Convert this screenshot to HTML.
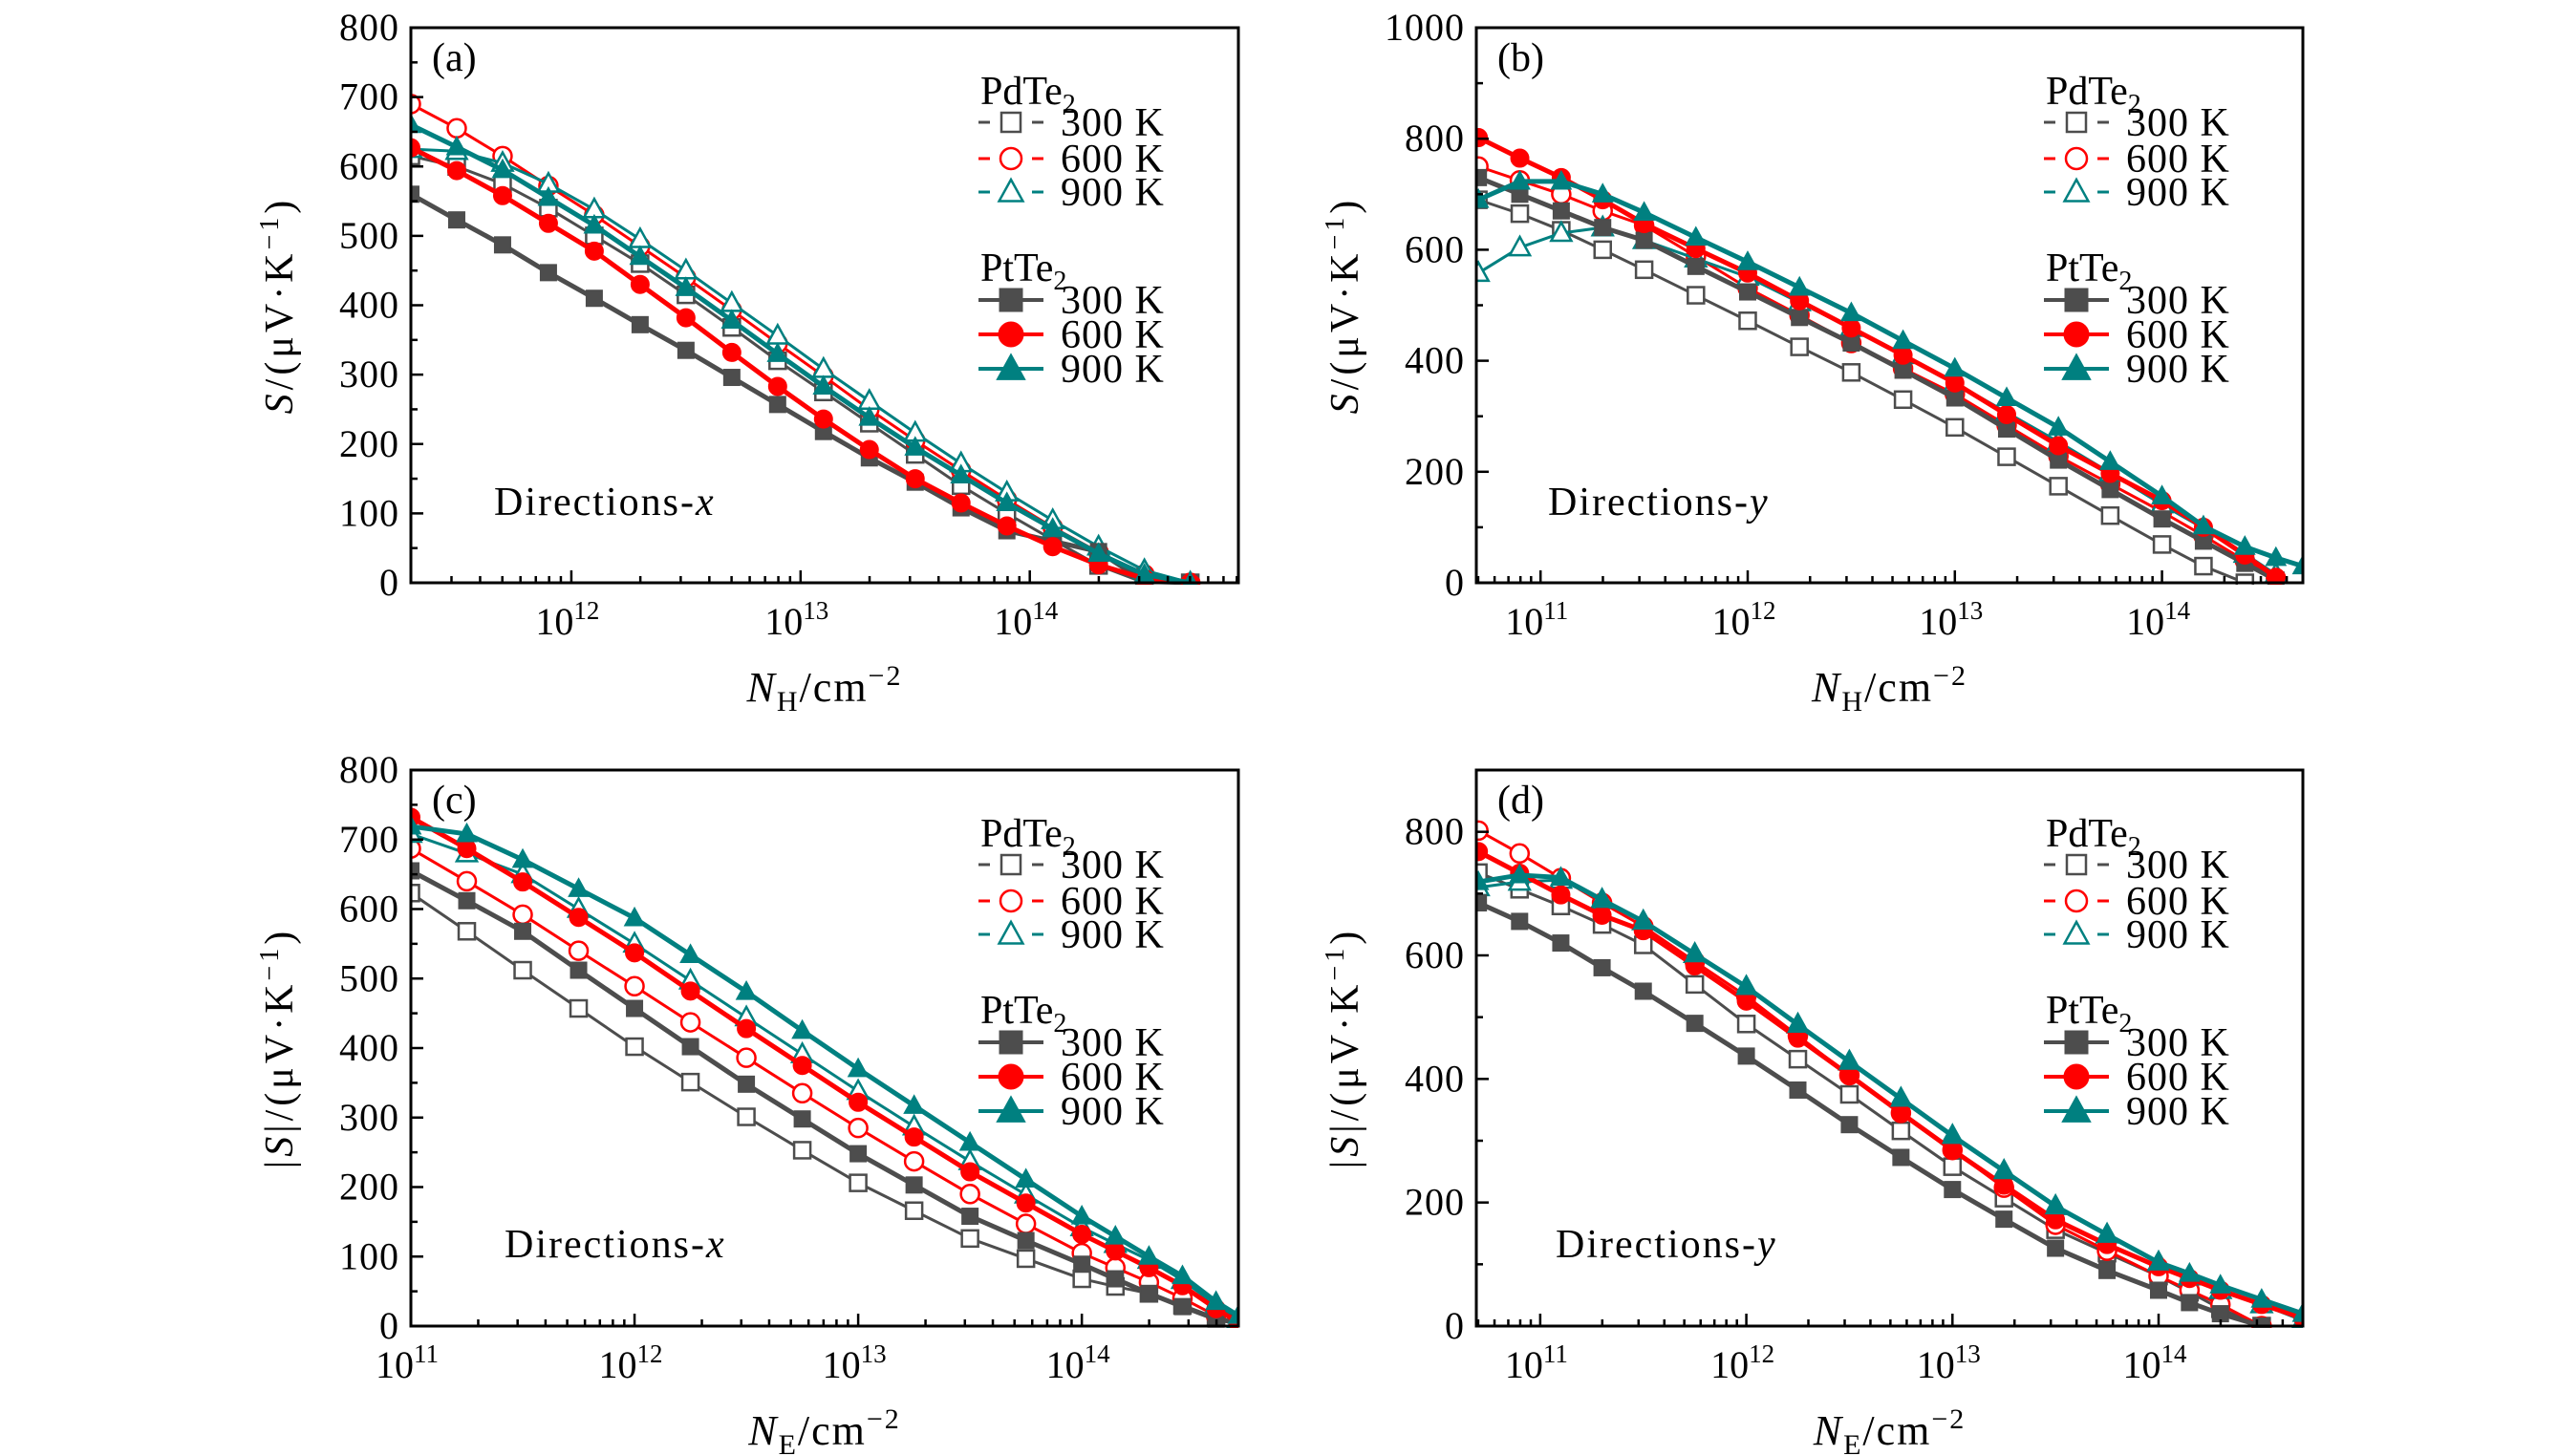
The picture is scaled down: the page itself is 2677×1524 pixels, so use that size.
<!DOCTYPE html>
<html><head><meta charset="utf-8"><title>Seebeck coefficient vs carrier concentration</title>
<style>
html,body{margin:0;padding:0;background:#fff;}
svg{display:block;font-family:"Liberation Serif","DejaVu Serif",serif;}
</style></head>
<body>
<svg id="fig" width="2677" height="1524" viewBox="0 0 2677 1524" xmlns="http://www.w3.org/2000/svg"></svg>
<script>
// ---- data (x values are log10 of carrier concentration) ----
const aX = [11.3,11.5,11.7,11.9,12.1,12.3,12.5,12.7,12.9,13.1,13.3,13.5,13.7,13.9,14.1,14.3,14.5,14.7];
const aPd300 = [615,600,575,540,500,460,415,368,320,275,230,185,140,100,62,25,0,0];
const aPd600 = [690,655,615,572,530,485,440,393,345,298,250,205,162,120,80,44,12,0];
const aPd900 = [625,622,605,575,538,495,450,403,356,308,262,216,172,130,90,52,18,0];
const aPt300 = [560,523,487,447,410,372,335,296,257,218,180,145,108,75,60,45,2,0];
const aPt600 = [627,594,558,518,478,430,382,332,283,236,192,150,115,82,52,26,6,0];
const aPt900 = [660,628,595,555,515,470,425,378,330,283,238,195,155,115,78,42,12,0];

const bX = [10.7,10.9,11.1,11.3,11.5,11.75,12,12.25,12.5,12.75,13,13.25,13.5,13.75,14,14.2,14.4,14.55,14.68];
const bPd300 = [690,665,635,600,564,518,472,425,379,330,280,227,174,121,69,30,0,null,null];
const bPd600 = [750,725,700,670,644,588,531,482,432,386,340,284,228,178,128,85,40,8,null];
const bPd900 = [558,604,630,640,617,584,551,505,459,410,360,307,254,198,141,98,52,15,null];
const bPt300 = [730,700,670,640,617,570,524,478,432,383,333,277,221,168,115,75,35,5,null];
const bPt600 = [802,765,730,690,647,602,558,508,459,410,360,303,247,197,148,100,50,10,null];
const bPt900 = [690,723,723,700,667,622,578,532,486,436,386,333,280,218,156,102,65,45,30];

const cX = [11.0,11.25,11.5,11.75,12,12.25,12.5,12.75,13,13.25,13.5,13.75,14,14.15,14.3,14.45,14.6,14.7];
const cPd300 = [623,568,512,457,402,351,301,253,206,166,126,97,68,57,47,30,12,0];
const cPd600 = [687,640,592,540,489,437,386,335,285,237,190,147,105,84,63,40,15,0];
const cPd900 = [708,680,650,600,550,497,444,391,338,287,237,189,142,118,95,66,30,10];
const cPt300 = [655,612,568,512,457,402,348,298,248,203,158,123,89,68,47,28,10,5];
const cPt600 = [732,687,639,588,537,482,428,375,322,272,222,177,132,108,84,58,25,5];
const cPt900 = [719,708,671,629,587,534,481,425,370,317,264,211,158,129,100,72,35,15];

const dX = [10.7,10.9,11.1,11.3,11.5,11.75,12,12.25,12.5,12.75,13,13.25,13.5,13.75,14,14.15,14.3,14.5,14.7];
const dPd300 = [734,707,680,650,617,553,489,432,375,316,258,207,156,118,81,55,28,0,null];
const dPd600 = [802,765,725,685,647,590,534,470,406,345,285,224,164,122,81,58,35,0,null];
const dPd900 = [710,719,722,690,655,602,549,488,428,368,308,251,194,148,103,80,58,35,9];
const dPt300 = [685,655,620,580,542,490,437,382,326,273,221,173,126,90,58,38,20,0,null];
const dPt600 = [768,733,698,665,640,583,526,466,406,345,285,228,172,132,96,77,58,35,13];
const dPt900 = [719,730,726,690,655,602,549,488,428,368,308,251,194,148,103,85,66,43,20];

const aYTicks = [0,100,200,300,400,500,600,700,800];
const bYTicks = [0,200,400,600,800,1000];
const cYTicks = [0,100,200,300,400,500,600,700,800];
const dYTicks = [0,200,400,600,800];
const aXTicks = [12,13,14];
const bXTicks = [11,12,13,14];
const cXTicks = [11,12,13,14];
const dXTicks = [11,12,13,14];
const tempLabels = ["300 K","600 K","900 K"];

// ---- drawing ----
const NS = "http://www.w3.org/2000/svg";
const svg = document.getElementById('fig');
const GRAY = "#4d4d4d", RED = "#ff0000", TEAL = "#008080";
const COLORS = [GRAY, RED, TEAL];
function mk(tag, attrs, parent){
  const e = document.createElementNS(NS, tag);
  for (const k in attrs) e.setAttribute(k, attrs[k]);
  (parent||svg).appendChild(e);
  return e;
}
function marker(g, shape, filled, color, cx, cy, s){
  let e;
  const fill = filled ? color : "#fff";
  const sw = filled ? 1 : 2.5;
  if (shape === 0){
    e = mk('rect', {x:cx-s/2, y:cy-s/2, width:s, height:s, fill:fill, stroke:color, 'stroke-width':sw}, g);
  } else if (shape === 1){
    e = mk('circle', {cx:cx, cy:cy, r:s/2+1, fill:fill, stroke:color, 'stroke-width':sw}, g);
  } else {
    const h = s*1.05;
    e = mk('polygon', {points:`${cx},${cy-h*0.62} ${cx-s*0.62},${cy+h*0.45} ${cx+s*0.62},${cy+h*0.45}`, fill:fill, stroke:color, 'stroke-width':sw}, g);
  }
  return e;
}

const panels = [
  {id:'a', L:430, R:1296, T:29, B:610, xmin:11.3, xmax:14.91, ymax:800, yMinorStep:50, xs:aX,
   pd:[aPd300,aPd600,aPd900], pt:[aPt300,aPt600,aPt900], yt:aYTicks, xt:aXTicks,
   ylab:'S', xsub:'H', dir:'x', dirX:87},
  {id:'b', L:1545, R:2410, T:29, B:610, xmin:10.69, xmax:14.68, ymax:1000, yMinorStep:100, xs:bX,
   pd:[bPd300,bPd600,bPd900], pt:[bPt300,bPt600,bPt900], yt:bYTicks, xt:bXTicks,
   ylab:'S', xsub:'H', dir:'y', dirX:75},
  {id:'c', L:430, R:1296, T:806, B:1388, xmin:11.0, xmax:14.70, ymax:800, yMinorStep:50, xs:cX,
   pd:[cPd300,cPd600,cPd900], pt:[cPt300,cPt600,cPt900], yt:cYTicks, xt:cXTicks,
   ylab:'|S|', xsub:'E', dir:'x', dirX:98},
  {id:'d', L:1545, R:2410, T:806, B:1388, xmin:10.69, xmax:14.70, ymax:900, yMinorStep:100, xs:dX,
   pd:[dPd300,dPd600,dPd900], pt:[dPt300,dPt600,dPt900], yt:dYTicks, xt:dXTicks,
   ylab:'|S|', xsub:'E', dir:'y', dirX:83}
];

panels.forEach(p => {
  const g = mk('g', {});
  
  
  const X = v => p.L + (v - p.xmin) / (p.xmax - p.xmin) * (p.R - p.L);
  const Y = v => p.B - v / p.ymax * (p.B - p.T);

  const cp = mk('clipPath', {id:'clip-'+p.id}, g);
  mk('rect', {x:p.L, y:p.T-10, width:p.R-p.L, height:p.B-p.T+12}, cp);
  const plot = mk('g', {'clip-path':'url(#clip-'+p.id+')'}, g);
  
  

  const shapes = [0,1,2];
  const drawSeries = (arr, filled, prefix) => {
    arr.forEach((vals, si) => {
      const sg = mk('g', {}, plot);
      
      
      const pts = [];
      vals.forEach((v, i) => { if (v !== null) pts.push([X(p.xs[i]), Y(v)]); });
      const line = mk('polyline', {points: pts.map(q => q.join(',')).join(' '), fill:'none',
        stroke:COLORS[si], 'stroke-width': filled ? 5 : 3, 'stroke-linejoin':'round'}, sg);
      
      
      pts.forEach(q => {
        const m = marker(sg, shapes[si], filled, COLORS[si], q[0], q[1], 17);
        
        
      });
    });
  };
  drawSeries(p.pd, false, 'pdte2');
  drawSeries(p.pt, true, 'ptte2');

  const fr = mk('rect', {x:p.L, y:p.T, width:p.R-p.L, height:p.B-p.T, fill:'none', stroke:'#000', 'stroke-width':3}, g);
  
  

  for (let v = 0; v <= p.ymax + 0.01; v += p.yMinorStep){
    const major = p.yt.indexOf(v) >= 0;
    mk('line', {x1:p.L, x2:p.L + (major ? 13 : 7), y1:Y(v), y2:Y(v), stroke:'#000', 'stroke-width':2.5}, g);
  }
  p.yt.forEach(v => {
    const t = mk('text', {x:p.L-12, y:Y(v)+13, 'text-anchor':'end', 'font-size':40, 'letter-spacing':1, fill:'#000'}, g);
    t.textContent = String(v);
    
    
  });
  for (let d = Math.floor(p.xmin); d <= Math.ceil(p.xmax); d++){
    for (let k = 1; k <= 9; k++){
      const lv = d + Math.log10(k);
      if (lv < p.xmin - 1e-6 || lv > p.xmax + 1e-6) continue;
      const major = k === 1;
      mk('line', {x1:X(lv), x2:X(lv), y1:p.B, y2:p.B - (major ? 13 : 7), stroke:'#000', 'stroke-width':2.5}, g);
    }
  }
  p.xt.forEach(v => {
    const t = mk('text', {x:X(v)-4, y:p.B+54, 'text-anchor':'middle', 'font-size':40, fill:'#000'}, g);
    
    
    t.appendChild(document.createTextNode('10'));
    const s = mk('tspan', {dy:-16, 'font-size':27}, t);
    s.textContent = String(v);
  });

  const yt = mk('text', {transform:`translate(${p.L-124},${(p.T+p.B)/2}) rotate(-90)`, 'text-anchor':'middle', 'font-size':42, 'letter-spacing':4, fill:'#000'}, g);
  
  
  if (p.ylab === '|S|'){
    yt.appendChild(document.createTextNode('|'));
    const it = mk('tspan', {'font-style':'italic'}, yt); it.textContent = 'S';
    yt.appendChild(document.createTextNode('|/(μV·K'));
  } else {
    const it = mk('tspan', {'font-style':'italic'}, yt); it.textContent = 'S';
    yt.appendChild(document.createTextNode('/(μV·K'));
  }
  const sup = mk('tspan', {dy:-15, 'font-size':28}, yt); sup.textContent = '−1';
  const cl = mk('tspan', {dy:15}, yt); cl.textContent = ')';

  const xt = mk('text', {x:(p.L+p.R)/2, y:p.B+124, 'text-anchor':'middle', 'font-size':44, 'letter-spacing':2, fill:'#000'}, g);
  
  
  const n = mk('tspan', {'font-style':'italic'}, xt); n.textContent = 'N';
  const sb = mk('tspan', {dy:10, 'font-size':30}, xt); sb.textContent = p.xsub;
  const cm = mk('tspan', {dy:-10}, xt); cm.textContent = '/cm';
  const sp = mk('tspan', {dy:-17, 'font-size':30}, xt); sp.textContent = '−2';

  const pl = mk('text', {x:p.L+22, y:p.T+45, 'font-size':42, fill:'#000'}, g);
  pl.textContent = '(' + p.id + ')';
  
  

  const dl = mk('text', {x:p.L+p.dirX, y:p.T+510, 'font-size':42, 'letter-spacing':2, fill:'#000'}, g);
  
  
  dl.appendChild(document.createTextNode('Directions-'));
  const di = mk('tspan', {'font-style':'italic'}, dl); di.textContent = p.dir;

  const lg = mk('g', {}, g);
  
  
  const lx = p.L + 594;
  const heads = [['PdTe', p.T+80, false, 'pdte2'], ['PtTe', p.T+265, true, 'ptte2']];
  heads.forEach(([name, hy, filled, key], hi) => {
    const ht = mk('text', {x:lx+2, y:hy, 'font-size':42, fill:'#000'}, lg);
    
    
    ht.appendChild(document.createTextNode(name));
    const s2 = mk('tspan', {dy:9, 'font-size':28}, ht); s2.textContent = '2';
    const rows = hi === 0 ? [p.T+99, p.T+137, p.T+172] : [p.T+285, p.T+321, p.T+357];
    rows.forEach((ry, si) => {
      const eg = mk('g', {}, lg);
      
      
      if (filled){
        mk('line', {x1:lx, x2:lx+68, y1:ry, y2:ry, stroke:COLORS[si], 'stroke-width':4}, eg);
        marker(eg, si, true, COLORS[si], lx+34, ry, 24);
      } else {
        mk('line', {x1:lx, x2:lx+12, y1:ry, y2:ry, stroke:COLORS[si], 'stroke-width':3}, eg);
        mk('line', {x1:lx+56, x2:lx+68, y1:ry, y2:ry, stroke:COLORS[si], 'stroke-width':3}, eg);
        marker(eg, si, false, COLORS[si], lx+34, ry, 20);
      }
      const tt = mk('text', {x:lx+86, y:ry+14, 'font-size':42, 'letter-spacing':1, fill:'#000'}, eg);
      tt.textContent = tempLabels[si];
    });
  });
});
</script>
</body></html>
